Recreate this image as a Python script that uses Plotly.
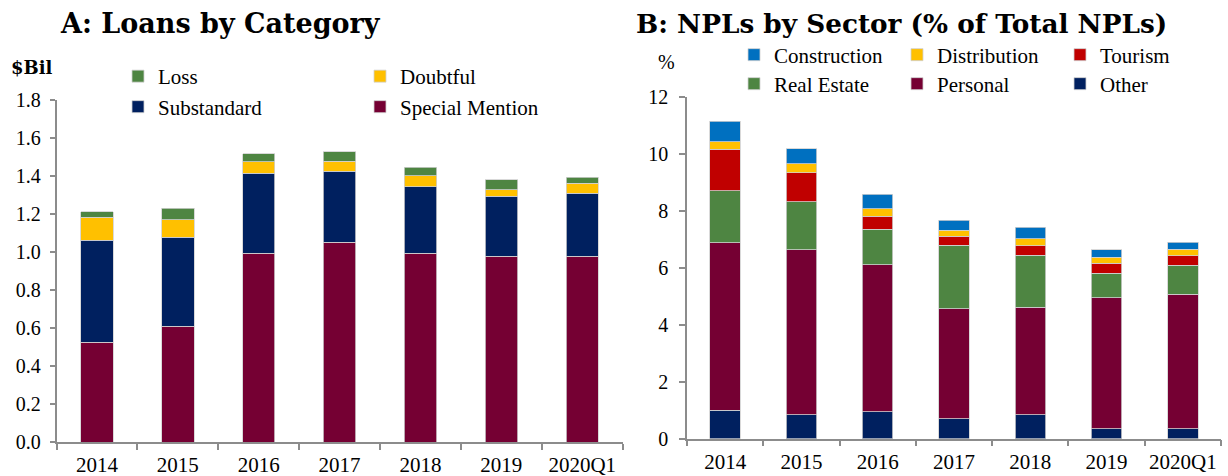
import plotly.graph_objects as go

W, H = 1228, 476

# ---- Data ----
years = ["2014", "2015", "2016", "2017", "2018", "2019", "2020Q1"]

special_mention = [0.525, 0.610, 0.995, 1.052, 0.995, 0.978, 0.980]
substandard = [0.538, 0.470, 0.420, 0.376, 0.350, 0.318, 0.332]
doubtful = [0.121, 0.090, 0.063, 0.052, 0.058, 0.033, 0.051]
loss = [0.028, 0.063, 0.040, 0.050, 0.044, 0.053, 0.033]

other = [1.00, 0.84, 0.95, 0.70, 0.84, 0.35, 0.35]
personal = [5.89, 5.79, 5.16, 3.87, 3.78, 4.60, 4.72]
real_estate = [1.815, 1.69, 1.25, 2.22, 1.83, 0.87, 1.02]
tourism = [1.46, 1.02, 0.46, 0.33, 0.32, 0.35, 0.34]
distribution = [0.26, 0.32, 0.26, 0.21, 0.25, 0.21, 0.22]
construction = [0.72, 0.53, 0.50, 0.35, 0.40, 0.25, 0.26]

left_ticks = [0.0, 0.2, 0.4, 0.6, 0.8, 1.0, 1.2, 1.4, 1.6, 1.8]
right_ticks = [0, 2, 4, 6, 8, 10, 12]

# ---- Style ----
MAROON = "#750033"
NAVY = "#00205F"
GOLD = "#FFC000"
GREEN = "#4E8542"
RED = "#C00000"
BLUE = "#0070C0"
AXIS = "#8c8c8c"
FONT = "Liberation Serif"
TFONT = "DejaVu Serif"

fig = go.Figure()

def add_bar(x, y, name, color, xa, ya, legend, rank):
    fig.add_trace(go.Bar(
        x=x, y=y, name=name, xaxis=xa, yaxis=ya,
        marker=dict(color=color, line=dict(color="#d0d0d0", width=0.8)),
        legend=legend, legendrank=rank, hoverinfo="x+y+name",
    ))

# Panel A
add_bar(years, special_mention, "Special Mention", MAROON, "x", "y", "legend2", 2)
add_bar(years, substandard, "Substandard", NAVY, "x", "y", "legend2", 1)
add_bar(years, doubtful, "Doubtful", GOLD, "x", "y", "legend", 2)
add_bar(years, loss, "Loss", GREEN, "x", "y", "legend", 1)

# Panel B
add_bar(years, other, "Other", NAVY, "x2", "y2", "legend4", 3)
add_bar(years, personal, "Personal", MAROON, "x2", "y2", "legend4", 2)
add_bar(years, real_estate, "Real Estate", GREEN, "x2", "y2", "legend4", 1)
add_bar(years, tourism, "Tourism", RED, "x2", "y2", "legend3", 3)
add_bar(years, distribution, "Distribution", GOLD, "x2", "y2", "legend3", 2)
add_bar(years, construction, "Construction", BLUE, "x2", "y2", "legend3", 1)

def px_x(p):
    return p / W

def px_y(p):
    return 1 - p / H

xcommon = dict(
    type="category", showline=True, linecolor=AXIS, linewidth=1.5,
    ticks="outside", tickson="boundaries", ticklen=6, tickcolor=AXIS, tickwidth=1.5,
    showgrid=False, zeroline=False, tickfont=dict(family=FONT, size=21, color="#000"),
    fixedrange=True, automargin=False, ticklabelstandoff=3, tickangle=0,
)
ycommon = dict(
    showline=True, linecolor=AXIS, linewidth=1.5,
    ticks="outside", ticklen=5, tickcolor=AXIS, tickwidth=1.5,
    showgrid=False, zeroline=False, tickfont=dict(family=FONT, size=20, color="#000"),
    fixedrange=True, automargin=False, ticklabelstandoff=5,
)

legend_common = dict(
    orientation="h", xanchor="left", yanchor="middle", xref="paper", yref="paper",
    font=dict(family=FONT, size=21, color="#000"), bgcolor="rgba(0,0,0,0)",
    borderwidth=0, entrywidthmode="pixels", itemclick=False, itemdoubleclick=False,
    traceorder="normal",
)

fig.update_layout(
    width=W, height=H, autosize=False,
    margin=dict(l=0, r=0, t=0, b=0, autoexpand=False),
    paper_bgcolor="white", plot_bgcolor="white",
    barmode="stack", bargap=0.6,
    font=dict(family=FONT, size=20, color="#000"),
    xaxis=dict(xcommon, domain=[px_x(56.5), px_x(622.7)], anchor="y"),
    yaxis=dict(ycommon, domain=[px_y(442), px_y(100.4)], anchor="x",
               range=[0, 1.8], tickvals=left_ticks, tickformat=".1f"),
    xaxis2=dict(xcommon, domain=[px_x(687), px_x(1221)], anchor="y2"),
    yaxis2=dict(ycommon, domain=[px_y(438.7), px_y(97.1)], anchor="x2",
                range=[0, 12], tickvals=right_ticks, ticklen=6, ticklabelstandoff=7),
    legend=dict(legend_common, x=px_x(118), y=px_y(76.5), entrywidth=197),
    legend2=dict(legend_common, x=px_x(118), y=px_y(107), entrywidth=197),
    legend3=dict(legend_common, x=px_x(734), y=px_y(55), entrywidth=118),
    legend4=dict(legend_common, x=px_x(734), y=px_y(84), entrywidth=118),
    showlegend=True,
)

annos = [
    dict(text="<b>A: Loans by Category</b>", x=px_x(58), y=px_y(23), size=27, fam=TFONT),
    dict(text="<b>B: NPLs by Sector (% of Total NPLs)</b>", x=px_x(634), y=px_y(23), size=26.3, fam=TFONT),
    dict(text="<b>$Bil</b>", x=px_x(9), y=px_y(68), size=18, fam=TFONT),
    dict(text="%", x=px_x(656), y=px_y(62), size=20, fam=FONT),
]
for a in annos:
    fig.add_annotation(
        text=a["text"], x=a["x"], y=a["y"], xref="paper", yref="paper",
        xanchor="left", yanchor="middle", showarrow=False,
        font=dict(family=a["fam"], size=a["size"], color="#000"),
    )

fig.write_html(
    "out.html",
    config=dict(displayModeBar=False),
    post_script="document.body.style.margin='0';document.body.style.overflow='hidden';",
)
